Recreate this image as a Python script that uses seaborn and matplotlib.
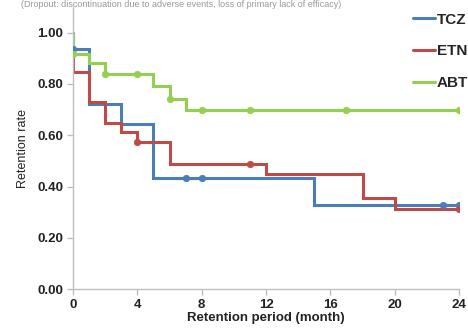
import numpy as np
import pandas as pd
import matplotlib
matplotlib.use("Agg")
import matplotlib.pyplot as plt
import seaborn as sns

# Step data (Kaplan-Meier style retention curves)
tcz_time = [0, 0, 1, 3, 5, 15, 24]
tcz_rate = [1.00, 0.937, 0.72, 0.645, 0.433, 0.327, 0.327]
etn_time = [0, 0, 1, 2, 3, 4, 6, 12, 18, 20, 24]
etn_rate = [1.00, 0.846, 0.729, 0.647, 0.612, 0.573, 0.489, 0.447, 0.357, 0.314, 0.314]
abt_time = [0, 0, 1, 2, 5, 6, 7, 24]
abt_rate = [1.00, 0.918, 0.88, 0.837, 0.794, 0.742, 0.70, 0.70]

# Censor markers
tcz_cens_t = [0, 7, 8, 23, 24]
tcz_cens_r = [0.937, 0.433, 0.433, 0.327, 0.327]
etn_cens_t = [4, 11, 24]
etn_cens_r = [0.573, 0.489, 0.314]
abt_cens_t = [0, 2, 4, 6, 8, 11, 17, 24]
abt_cens_r = [0.918, 0.837, 0.837, 0.742, 0.70, 0.70, 0.70, 0.70]

x_ticks = [0, 4, 8, 12, 16, 20, 24]
y_ticks = [0.0, 0.2, 0.4, 0.6, 0.8, 1.0]

colors = {"TCZ": "#4A7EBB", "ETN": "#BE4B48", "ABT": "#92D050"}

sns.set_style("white")
plt.rcParams['font.family'] = ['Liberation Sans', 'DejaVu Sans']

fig = plt.figure(figsize=(4.68, 3.35), dpi=100)
ax = fig.add_axes([0.156, 0.137, 0.825, 0.842])

curves = [("TCZ", tcz_time, tcz_rate, tcz_cens_t, tcz_cens_r),
          ("ETN", etn_time, etn_rate, etn_cens_t, etn_cens_r),
          ("ABT", abt_time, abt_rate, abt_cens_t, abt_cens_r)]

for name, t, r, ct, cr in curves:
    df = pd.DataFrame({"t": t, "r": r})
    sns.lineplot(data=df, x="t", y="r", ax=ax, drawstyle="steps-post",
                 color=colors[name], lw=2.2, label=name, sort=False,
                 estimator=None, solid_joinstyle="miter")
for name, t, r, ct, cr in curves:
    cdf = pd.DataFrame({"t": ct, "r": cr})
    sns.scatterplot(data=cdf, x="t", y="r", ax=ax, color=colors[name],
                    s=22, edgecolor=colors[name], linewidth=0.5, zorder=5,
                    legend=False)

ax.set_xlim(0, 24)
ax.set_ylim(0, 1.1)
ax.set_xticks(x_ticks)
ax.set_xticklabels([str(v) for v in x_ticks])
ax.set_yticks(y_ticks)
ax.set_yticklabels([f"{v:.2f}" for v in y_ticks])

for s in ["top", "right"]:
    ax.spines[s].set_visible(False)
for s in ["left", "bottom"]:
    ax.spines[s].set_color("#BFBFBF")
    ax.spines[s].set_linewidth(1.0)
ax.tick_params(axis="both", which="both", direction="out", length=4,
               color="#BFBFBF", width=1.0, labelsize=9.5, labelcolor="#222222",
               pad=3)
ax.tick_params(axis="y", left=True)
ax.tick_params(axis="x", bottom=True)
for lab in ax.get_xticklabels() + ax.get_yticklabels():
    lab.set_fontweight("bold")

ax.set_xlabel("Retention period (month)", fontsize=9.5, fontweight="bold",
              color="#222222", labelpad=1)
ax.set_ylabel("Retention rate", fontsize=9, color="#222222", labelpad=6)

leg = ax.legend(loc="upper left", bbox_to_anchor=(0.883, 0.962),
                bbox_transform=fig.transFigure, frameon=False,
                handlelength=1.45, handletextpad=0.1, labelspacing=1.15,
                borderaxespad=0, borderpad=0,
                prop={"weight": "bold", "size": 11})
for line in leg.get_lines():
    line.set_linewidth(2.2)

fig.text(0.045, 0.999, "(Dropout: discontinuation due to adverse events, loss of primary lack of efficacy)",
         fontsize=6.5, color="#999999", va="top", ha="left")

fig.savefig("out.png", dpi=100)
